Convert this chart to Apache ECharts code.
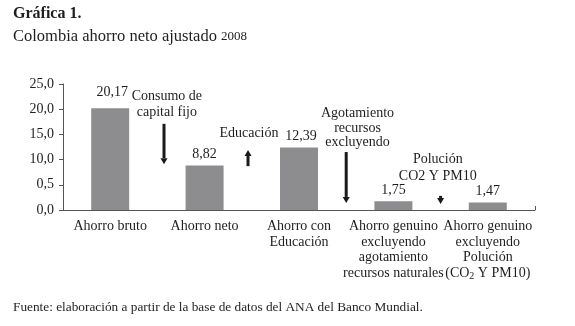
<!DOCTYPE html>
<html>
<head>
<meta charset="utf-8">
<script src="https://cdn.jsdelivr.net/npm/echarts@6/dist/echarts.min.js"></script>
<style>
html,body{margin:0;padding:0;background:#fff;}
#c{width:575px;height:326px;}
</style>
</head>
<body>
<div id="c"></div>
<script>
// ---- data ----
var categories = [
  'Ahorro bruto',
  'Ahorro neto',
  'Ahorro con\nEducación',
  'Ahorro genuino\nexcluyendo\nagotamiento\nrecursos naturales',
  'Ahorro genuino\nexcluyendo\nPolución\n(CO{sub|2} Y PM10)'
];
var values = [20.17, 8.82, 12.39, 1.75, 1.47];
var valueLabels = ['20,17', '8,82', '12,39', '1,75', '1,47'];
var yTickLabels = ['0,0', '0,5', '10,0', '15,0', '20,0', '25,0'];
var annotationTexts = [
  'Consumo de\ncapital fijo',
  'Educación',
  'Agotamiento\nrecursos\nexcluyendo',
  'Polución\nCO2 Y PM10'
];

var FONT = '"Liberation Serif", "Times New Roman", serif';
var TXT = '#1e1e1e';

var chart = echarts.init(document.getElementById('c'), null, {renderer: 'canvas'});

var option = {
  animation: false,
  backgroundColor: '#fff',
  title: [
    {text: 'Gráfica 1.', left: 13, top: 6, padding: 0,
     textStyle: {fontFamily: FONT, fontSize: 16, fontWeight: 'bold', color: TXT}},
    {text: '{m|Colombia ahorro neto ajustado }{s|2008}', left: 13, top: 27, padding: 0,
     textStyle: {fontFamily: FONT, fontSize: 16.5, fontWeight: 'normal', color: TXT,
       rich: {
         m: {fontFamily: FONT, fontSize: 16.5, color: TXT, lineHeight: 18, verticalAlign: 'bottom'},
         s: {fontFamily: FONT, fontSize: 13, color: TXT, lineHeight: 15, verticalAlign: 'bottom', padding: [0, 0, 2, 0]}
       }}},
    {text: 'Fuente: elaboración a partir de la base de datos del ANA del Banco Mundial.', left: 13, top: 301, padding: 0,
     textStyle: {fontFamily: FONT, fontSize: 13.3, fontWeight: 'normal', color: TXT}}
  ],
  grid: {left: 63, right: 40, top: 84, bottom: 116, containLabel: false},
  xAxis: {
    type: 'category',
    data: categories,
    axisLine: {lineStyle: {color: '#555', width: 1}},
    axisTick: {show: true, inside: true, length: 4, lineStyle: {color: '#555'},
      interval: function (i) { return i === categories.length - 1; }},
    axisLabel: {fontFamily: FONT, fontSize: 14, color: TXT, lineHeight: 15.5, margin: 9, interval: 0,
      rich: {sub: {fontFamily: FONT, fontSize: 10, color: TXT, lineHeight: 10, verticalAlign: 'bottom'}}}
  },
  yAxis: {
    type: 'value',
    min: 0, max: 25, interval: 5,
    axisLine: {show: true, lineStyle: {color: '#555', width: 1}},
    axisTick: {show: true, length: 4, lineStyle: {color: '#555'}},
    splitLine: {show: false},
    axisLabel: {fontFamily: FONT, fontSize: 14, color: TXT, margin: 9,
      formatter: function (v) { return yTickLabels[Math.round(v / 5)]; }}
  },
  series: [{
    type: 'bar',
    barWidth: 38,
    itemStyle: {color: '#8d8d8f'},
    data: values.map(function (v, i) {
      var d = {value: v};
      if (i === 0) d.label = {offset: [2, -5]};
      if (i === 2) d.label = {offset: [2, 0]};
      return d;
    }),
    label: {
      show: true, position: 'top', distance: 4,
      fontFamily: FONT, fontSize: 14, color: TXT,
      formatter: function (p) { return valueLabels[p.dataIndex]; }
    }
  }]
};
chart.setOption(option);

// ---- annotations positioned in data units (category index, value) ----
var c0 = chart.convertToPixel({gridIndex: 0}, [0, 0]);
var c1 = chart.convertToPixel({gridIndex: 0}, [1, 0]);
var band = c1[0] - c0[0];
function px(xi, yv) {
  var p = chart.convertToPixel({gridIndex: 0}, [0, yv]);
  return [c0[0] + xi * band, p[1]];
}
var textAnchors = [
  {x: 0.60, y: 20.9, lh: 16},
  {x: 1.47, y: 15.3, lh: 15},
  {x: 2.62, y: 16.3, lh: 14.5},
  {x: 3.47, y: 8.4, lh: 17}
];
var arrows = [
  {x: 0.57, from: 17.1, to: 9.1},
  {x: 1.46, from: 8.7, to: 11.9},
  {x: 2.50, from: 11.5, to: 1.4},
  {x: 3.50, from: 2.8, to: 1.2}
];
var graphics = [];
textAnchors.forEach(function (a, i) {
  var p = px(a.x, a.y);
  graphics.push({
    type: 'text', x: p[0], y: p[1],
    style: {text: annotationTexts[i], font: '14px ' + FONT, fill: TXT,
      align: 'center', verticalAlign: 'middle', lineHeight: a.lh}
  });
});
arrows.forEach(function (a) {
  var p1 = px(a.x, a.from), p2 = px(a.x, a.to);
  var dir = p2[1] > p1[1] ? 1 : -1;
  var head = 6, hw = 3.5;
  graphics.push({
    type: 'line',
    shape: {x1: p1[0], y1: p1[1], x2: p2[0], y2: p2[1] - dir * head},
    style: {stroke: '#1a1a1a', lineWidth: 3}
  });
  graphics.push({
    type: 'polygon',
    shape: {points: [[p2[0] - hw, p2[1] - dir * head], [p2[0] + hw, p2[1] - dir * head], [p2[0], p2[1]]]},
    style: {fill: '#1a1a1a'}
  });
});
chart.setOption({graphic: graphics});
</script>
</body>
</html>
